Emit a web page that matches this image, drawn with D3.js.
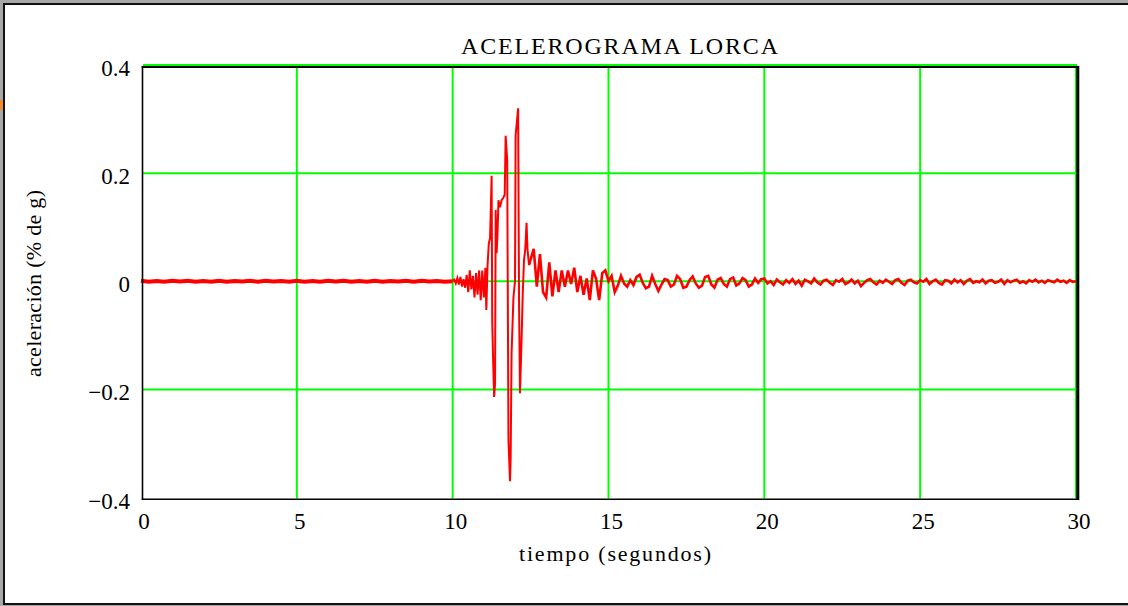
<!DOCTYPE html>
<html>
<head>
<meta charset="utf-8">
<script src="https://cdn.jsdelivr.net/npm/d3@7"></script>
<style>
    html, body { margin: 0; padding: 0; background: #ffffff; }
    svg { display: block; }
    text { font-family: "Liberation Serif", "Times New Roman", serif; fill: #000; }
</style>
</head>
<body>
<svg id="chart" width="1128" height="606"></svg>
<script>
// Acelerograma Lorca

var xTicks = [0, 5, 10, 15, 20, 25, 30];
var yTicks = [-0.4, -0.2, 0, 0.2, 0.4];
var yTickLabels = ['\u22120.4', '\u22120.2', '0', '0.2', '0.4'];

// 0 - 10 s, one sample every 0.25 s (pre-event, practically flat)
var quietStep = 0.25;
var quietA = [
    0.001, -0.001, 0.0005, -0.001, 0.001, -0.0005, 0.001, -0.001, 0.0005, -0.001,
    0.001, -0.001, 0.0005, -0.0005, 0.001, -0.001, 0.001, -0.0005, 0.0005, -0.001,
    0.001, -0.001, 0.0005, -0.001, 0.001, -0.0005, 0.001, -0.001, 0.0005, -0.001,
    0.001, -0.001, 0.0005, -0.0005, 0.001, -0.001, 0.001, -0.0005, 0.0005, -0.001,
    0.0
];

// 10 - 12.45 s, strong motion (time, accel)
var eventT = [
    10.00, 10.05, 10.10, 10.15, 10.20, 10.25, 10.30, 10.35, 10.40, 10.45,
    10.50, 10.55, 10.60, 10.65, 10.70, 10.75, 10.80, 10.85, 10.90, 10.95,
    11.00, 11.05, 11.08, 11.12, 11.16, 11.20, 11.25, 11.27, 11.30, 11.33,
    11.36, 11.38, 11.41, 11.44, 11.47, 11.52, 11.57, 11.62, 11.67, 11.70,
    11.75, 11.79, 11.84, 11.86, 11.89, 11.95, 12.00, 12.02, 12.10, 12.13,
    12.16, 12.19, 12.21, 12.25, 12.29, 12.33, 12.37, 12.40, 12.45
];
var eventA = [
    0.0, 0.003, -0.004, 0.006, -0.006, 0.008, -0.01, 0.004, -0.012, 0.012,
    -0.02, 0.02, -0.015, 0.01, -0.03, 0.015, -0.025, 0.02, -0.035, 0.02,
    -0.03, 0.025, -0.053, 0.03, 0.07, 0.08, 0.195, -0.077, -0.15, -0.214,
    -0.19, 0.132, 0.052, 0.09, 0.15, 0.137, 0.15, 0.154, 0.16, 0.269,
    0.224, -0.293, -0.37, -0.33, -0.133, -0.03, 0.0, 0.27, 0.32, -0.04,
    -0.207, -0.15, -0.11, -0.02, 0.04, 0.06, 0.108, 0.06, 0.03
];

// 12.5 - 30 s, coda, one sample every 0.1 s
var codaStart = 12.5;
var codaStep = 0.1;
var codaA = [
    // 12.5 - 14.9
    0.04, 0.06, -0.01, 0.05, -0.02, -0.03, 0.035, -0.028, 0.02, -0.02,
    0.02, -0.01, 0.02, -0.005, 0.025, -0.02, 0.01, -0.025, 0.005, -0.035,
    0.02, 0.005, -0.035, 0.015, 0.02,
    // 15.0 - 19.9
    0.0, 0.01, -0.02, -0.008, 0.01, -0.004, -0.01, 0.002, -0.007, 0.008,
    0.012, -0.003, -0.013, -0.01, 0.01, -0.005, -0.018, -0.006, 0.004, 0.002,
    -0.01, -0.006, 0.01, 0.004, -0.012, -0.01, 0.002, 0.009, -0.004, -0.012,
    -0.008, 0.008, 0.01, -0.006, -0.012, 0.003, 0.006, -0.005, -0.01, 0.004,
    0.007, -0.008, -0.004, 0.006, 0.002, -0.01, -0.006, 0.005, -0.003, 0.004,
    // 20.0 - 30.0
    0.005, -0.004, 0.0, -0.007, 0.003, -0.002, -0.006, 0.002, -0.003, 0.004,
    -0.005, 0.001, -0.008, 0.003, 0.0, -0.004, 0.005, -0.002, -0.006, 0.001,
    0.003, -0.003, -0.007, 0.002, -0.001, 0.004, -0.005, -0.002, 0.003, -0.004,
    0.001, -0.009, -0.003, 0.002, 0.004, -0.002, -0.006, 0.001, -0.003, 0.003,
    -0.001, -0.005, 0.002, 0.004, -0.003, -0.007, 0.001, 0.003, -0.002, -0.004,
    0.002, -0.001, 0.004, -0.005, 0.0, 0.003, -0.003, -0.006, 0.002, 0.001,
    -0.004, 0.003, -0.002, 0.002, -0.005, 0.001, 0.004, -0.003, 0.0, -0.002,
    0.003, -0.004, 0.001, 0.002, -0.003, -0.001, 0.003, -0.005, 0.002, -0.002,
    0.001, 0.003, -0.003, 0.0, -0.004, 0.002, -0.001, 0.003, -0.002, 0.001,
    -0.003, 0.002, 0.0, -0.002, 0.003, -0.001, 0.001, -0.003, 0.002, -0.001,
    0.0
];

var svg = d3.select('#chart');

var x = d3.scaleLinear().domain([0, 30]).range([141, 1076]);
var y = d3.scaleLinear().domain([-0.4, 0.4]).range([497.5, 65]);

// window frame
svg.append('rect')
    .attr('x', 0).attr('y', 0)
    .attr('width', 1128).attr('height', 606)
    .attr('fill', '#a8a8a8');
svg.append('rect')
    .attr('x', 4).attr('y', 4)
    .attr('width', 1130).attr('height', 600)
    .attr('fill', '#ffffff')
    .attr('stroke', '#111')
    .attr('stroke-width', 2);
svg.append('rect')
    .attr('x', 0).attr('y', 100)
    .attr('width', 3).attr('height', 10)
    .attr('fill', '#f28a30');

// grid
var grid = svg.append('g').attr('stroke', '#00ff00').attr('stroke-width', 2);
grid.selectAll('line.vx')
    .data(xTicks.filter(d => d > 0))
    .enter().append('line')
        .attr('x1', d => x(d)).attr('x2', d => x(d))
        .attr('y1', y(0.4)).attr('y2', y(-0.4) + 1);
grid.selectAll('line.hy')
    .data(yTicks.filter(d => d > -0.4))
    .enter().append('line')
        .attr('x1', x(0) + 2).attr('x2', x(30) + 1)
        .attr('y1', d => y(d)).attr('y2', d => y(d));

// trace
var line = d3.line()
    .x(d => x(d[0]))
    .y(d => y(d[1]));

var quiet = quietA.map((a, i) => [i * quietStep, a]);
var strong = eventT.map((t, i) => [t, eventA[i]]);
var coda = [strong[strong.length - 1]].concat(
    codaA.map((a, i) => [codaStart + i * codaStep, a]));

var trace = svg.append('g')
    .attr('fill', 'none')
    .attr('stroke', '#ff0000')
    .attr('stroke-linejoin', 'miter');

trace.append('path')
    .attr('stroke-width', 4)
    .attr('d', line(quiet));
trace.append('path')
    .attr('stroke-width', 2)
    .attr('d', line(strong));
trace.append('path')
    .attr('stroke-width', 2.6)
    .attr('d', line(coda));

// plot frame
var frame = svg.append('g').attr('stroke', '#000');
frame.append('line')
    .attr('x1', x(0) + 1.5).attr('x2', x(0) + 1.5)
    .attr('y1', y(0.4) + 1).attr('y2', y(-0.4) + 2.5)
    .attr('stroke-width', 1.6);
frame.append('line')
    .attr('x1', x(0) + 0.7).attr('x2', x(30) + 3)
    .attr('y1', y(-0.4) + 1.8).attr('y2', y(-0.4) + 1.8)
    .attr('stroke-width', 1.6);
frame.append('line')
    .attr('x1', x(0) + 0.7).attr('x2', x(30) + 3)
    .attr('y1', y(0.4) + 2).attr('y2', y(0.4) + 2)
    .attr('stroke-width', 2);
frame.append('line')
    .attr('x1', x(30) + 1.8).attr('x2', x(30) + 1.8)
    .attr('y1', y(0.4) + 1).attr('y2', y(-0.4) + 2.5)
    .attr('stroke-width', 3);

// tick labels
svg.append('g').selectAll('text')
    .data(yTicks)
    .enter().append('text')
        .attr('x', 130)
        .attr('y', d => y(d) + 11)
        .attr('text-anchor', 'end')
        .attr('font-size', 23)
        .text((d, i) => yTickLabels[i]);

svg.append('g').selectAll('text')
    .data(xTicks)
    .enter().append('text')
        .attr('x', d => x(d) + 3)
        .attr('y', 529)
        .attr('text-anchor', 'middle')
        .attr('font-size', 23)
        .text(d => d);

// titles
svg.append('text')
    .attr('x', 461).attr('y', 54)
    .attr('font-size', 24)
    .attr('textLength', 317)
    .attr('lengthAdjust', 'spacing')
    .text('ACELEROGRAMA LORCA');

svg.append('text')
    .attr('x', 519).attr('y', 561)
    .attr('font-size', 22)
    .attr('textLength', 192)
    .attr('lengthAdjust', 'spacing')
    .text('tiempo (segundos)');

svg.append('text')
    .attr('transform', 'translate(41,377) rotate(-90)')
    .attr('font-size', 22)
    .attr('textLength', 187)
    .attr('lengthAdjust', 'spacing')
    .text('aceleración (% de g)');
</script>
</body>
</html>
